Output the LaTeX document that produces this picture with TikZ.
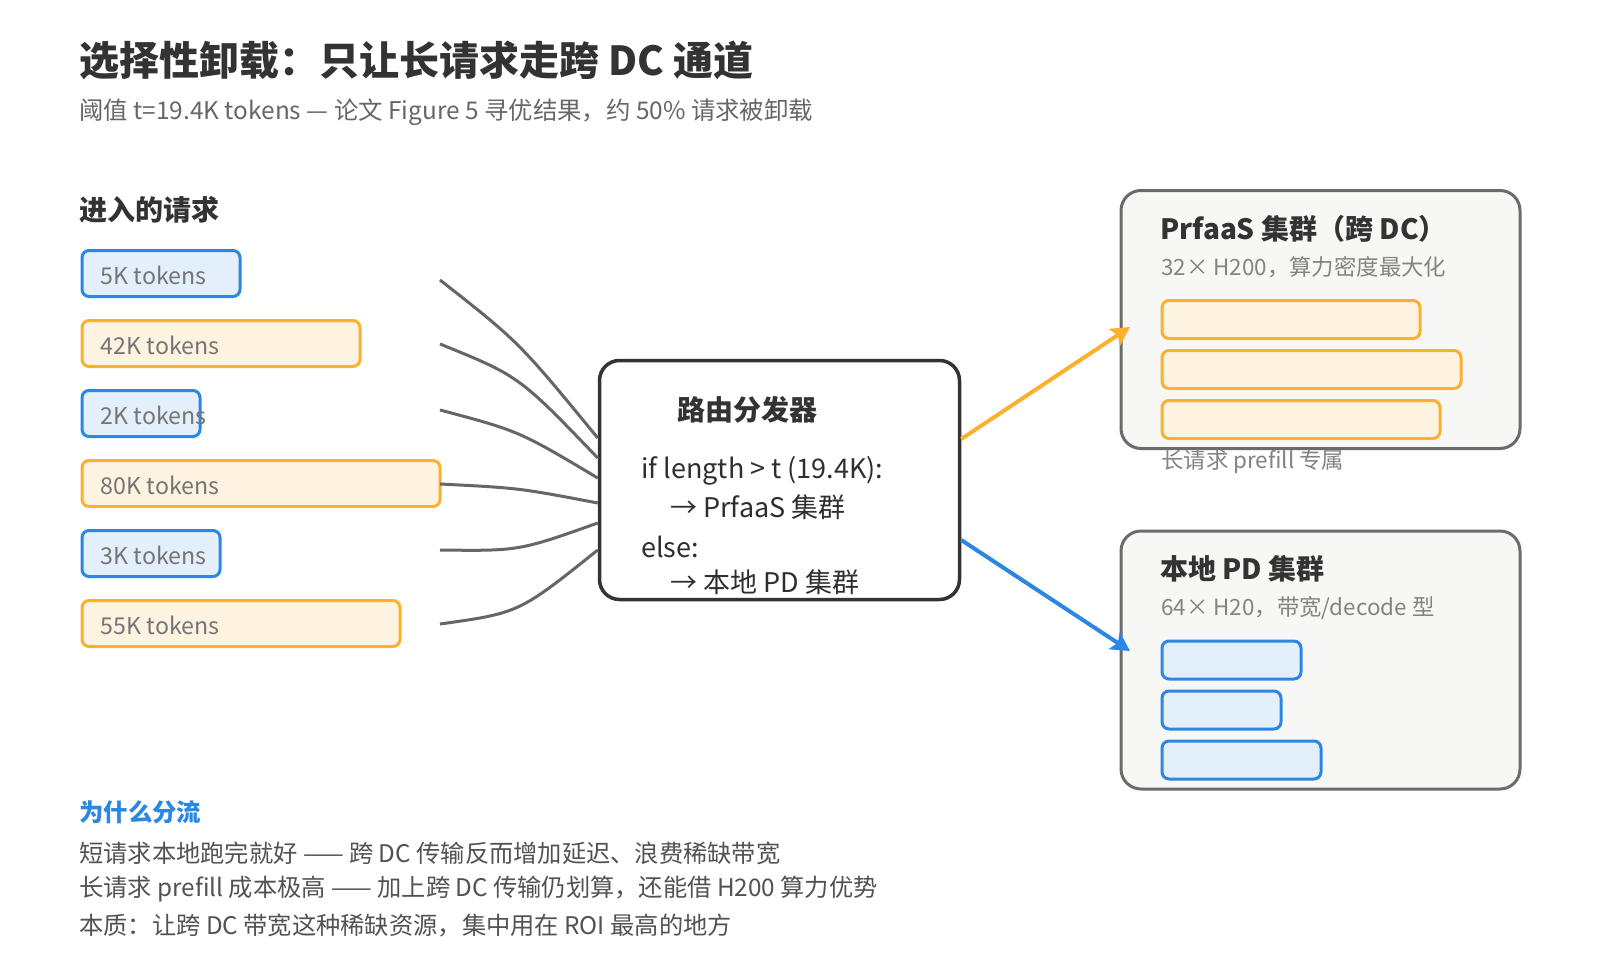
\documentclass[tikz,border=0pt]{standalone}
\usepackage{fontspec}
\setmainfont{Noto Sans CJK SC}
\usetikzlibrary{arrows.meta,calc,positioning}
\newdimen\pxl \pxl=0.75pt
\definecolor{ink}{HTML}{333333}
\definecolor{subgray}{HTML}{666666}
\definecolor{labgray}{HTML}{757575}
\definecolor{shortblue}{HTML}{2B87E3}
\definecolor{shortfill}{HTML}{E3F0FC}
\definecolor{longamber}{HTML}{FBB02E}
\definecolor{longfill}{HTML}{FEF3E1}
\definecolor{flowgray}{HTML}{666666}
\definecolor{panelfill}{HTML}{F7F7F5}
\definecolor{panelline}{HTML}{6B6B6B}
\tikzset{
  tokshort/.style={draw=shortblue, fill=shortfill, line width=3\pxl, rounded corners=7\pxl, minimum height=46\pxl, inner sep=0pt},
  toklong/.style={draw=longamber, fill=longfill, line width=3\pxl, rounded corners=7\pxl, minimum height=46\pxl, inner sep=0pt},
  toktext/.style={inner sep=0pt, text=labgray, font=\fontsize{17.4pt}{21pt}\selectfont},
  flow/.style={draw=flowgray, line width=3\pxl},
  router/.style={draw=ink, fill=white, line width=3.5\pxl, rounded corners=20\pxl, inner sep=0pt},
  rhead/.style={inner sep=0pt, text=ink, font=\fontsize{21pt}{25pt}\selectfont\bfseries},
  rcode/.style={inner sep=0pt, text=ink!90!black, font=\fontsize{20.25pt}{24pt}\selectfont},
  cluster/.style={draw=panelline, fill=panelfill, line width=3\pxl, rounded corners=20\pxl, inner sep=0pt},
  ctitle/.style={inner sep=0pt, text=ink, font=\fontsize{21pt}{26pt}\selectfont\bfseries},
  csub/.style={inner sep=0pt, text=labgray!90, font=\fontsize{16.8pt}{20pt}\selectfont},
  barlong/.style={draw=longamber, fill=longfill, line width=3\pxl, rounded corners=7\pxl, minimum height=38\pxl, inner sep=0pt},
  barshort/.style={draw=shortblue, fill=shortfill, line width=3\pxl, rounded corners=7\pxl, minimum height=38\pxl, inner sep=0pt},
  tolong/.style={draw=longamber, line width=4\pxl, -{Stealth[length=14pt, width=15pt, inset=3pt]}},
  toshort/.style={draw=shortblue, line width=4\pxl, -{Stealth[length=14pt, width=15pt, inset=3pt]}},
  whytext/.style={inner sep=0pt, anchor=west, text=ink!85, font=\fontsize{18.2pt}{22pt}\selectfont},
}

\begin{document}
\begin{tikzpicture}[x=0.75pt, y=-0.75pt]
  %%%%% START %%%%%

  \fill[white] (0,0) rectangle (1600,960);
  \useasboundingbox (0,0) rectangle (1600,960);

  \node[inner sep=0pt, anchor=west, text=ink, font=\fontsize{30pt}{36pt}\selectfont\bfseries] (title) at (79,60) {选择性卸载：只让长请求走跨 DC 通道};
  \node[inner sep=0pt, anchor=west, text=subgray, font=\fontsize{18.3pt}{22pt}\selectfont] (subtitle) at (79,112) {阈值 t=19.4K tokens — 论文 Figure 5 寻优结果，约 50\% 请求被卸载};
  \node[inner sep=0pt, anchor=west, text=ink, font=\fontsize{21pt}{25pt}\selectfont\bfseries] (inhead) at (79,210) {进入的请求};

  \node[router, minimum width=360\pxl, minimum height=239\pxl] (router) at (779.5,480) {};
  \node[rhead, anchor=west] (rh) at (677,410) {路由分发器};
  \node[rcode, anchor=west] (c1) at (641,471) {if length > t (19.4K):};
  \node[rcode, anchor=west] (c2) at (670,507) {→ PrfaaS 集群};
  \node[rcode, anchor=west] (c3) at (641,547) {else:};
  \node[rcode, anchor=west] (c4) at (670,582) {→ 本地 PD 集群};

  \foreach \n/\w/\kind/\y/\sy/\lab in {1/158/tokshort/273.5/280/5K tokens, 2/278/toklong/343.5/344/42K tokens,
      3/118/tokshort/413.5/410/2K tokens, 4/358/toklong/483.5/484/80K tokens,
      5/138/tokshort/553.5/550/3K tokens, 6/318/toklong/623.5/624/55K tokens}
  {
    \node[\kind, minimum width=\w\pxl, anchor=west] (r\n) at (80.5,\y) {};
    \node[toktext, right=20\pxl of r\n.west, yshift=-1.5pt] (t\n) {\lab};
    \coordinate (s\n) at (440,\sy);
  }

  \foreach \n/\dy/\cy in {1/-42/342, 2/-22/376, 3/-2/431, 4/23/488, 5/43/551, 6/70/613}
  {
    \coordinate (e\n) at ($(router.west)+(0,\dy)$);
    \draw[flow] (s\n) .. controls (519,\cy) .. (e\n);
  }

  % clusters
  \node[cluster, minimum width=399\pxl, minimum height=258\pxl, anchor=north west] (pf) at (1119.5,189) {};
  \node[ctitle, anchor=west] (pft) at (1160,229) {PrfaaS 集群（跨 DC）};
  \node[csub, anchor=west] (pfs) at (1161,267) {32× H200，算力密度最大化};
  \foreach \n/\w/\y in {1/258/299, 2/299/349, 3/278/399}
    \node[barlong, minimum width=\w\pxl, anchor=north west] (pb\n) at (1160.5,\y) {};
  \node[csub, anchor=west] (pfn) at (1161,462) {长请求 prefill 专属};

  \node[cluster, minimum width=399\pxl, minimum height=258\pxl, anchor=north west] (pd) at (1119.5,529.5) {};
  \node[ctitle, anchor=west] (pdt) at (1160,569) {本地 PD 集群};
  \node[csub, anchor=west] (pds) at (1161,608) {64× H20，带宽/decode 型};
  \foreach \n/\w/\y in {1/139/639.5, 2/119/689.5, 3/159/739.5}
    \node[barshort, minimum width=\w\pxl, anchor=north west] (lb\n) at (1160.5,\y) {};

  \coordinate (ro1) at ($(router.east)+(0,-41)$);
  \coordinate (ro2) at ($(router.east)+(0,60)$);
  \coordinate (pfin) at (1130,327);
  \coordinate (pdin) at (1130,651);
  \draw[tolong] (ro1) -- (pfin);
  \draw[toshort] (ro2) -- (pdin);

  \node[inner sep=0pt, anchor=west, text=shortblue, font=\fontsize{18.3pt}{22pt}\selectfont\bfseries] (why) at (79,812) {为什么分流};
  \node[whytext] (w1) at (79,853) {短请求本地跑完就好 —— 跨 DC 传输反而增加延迟、浪费稀缺带宽};
  \node[whytext] (w2) at (79,889) {长请求 prefill 成本极高 —— 加上跨 DC 传输仍划算，还能借 H200 算力优势};
  \node[whytext] (w3) at (79,925) {本质：让跨 DC 带宽这种稀缺资源，集中用在 ROI 最高的地方};

  %%%%% END %%%%%
\end{tikzpicture}
\end{document}
